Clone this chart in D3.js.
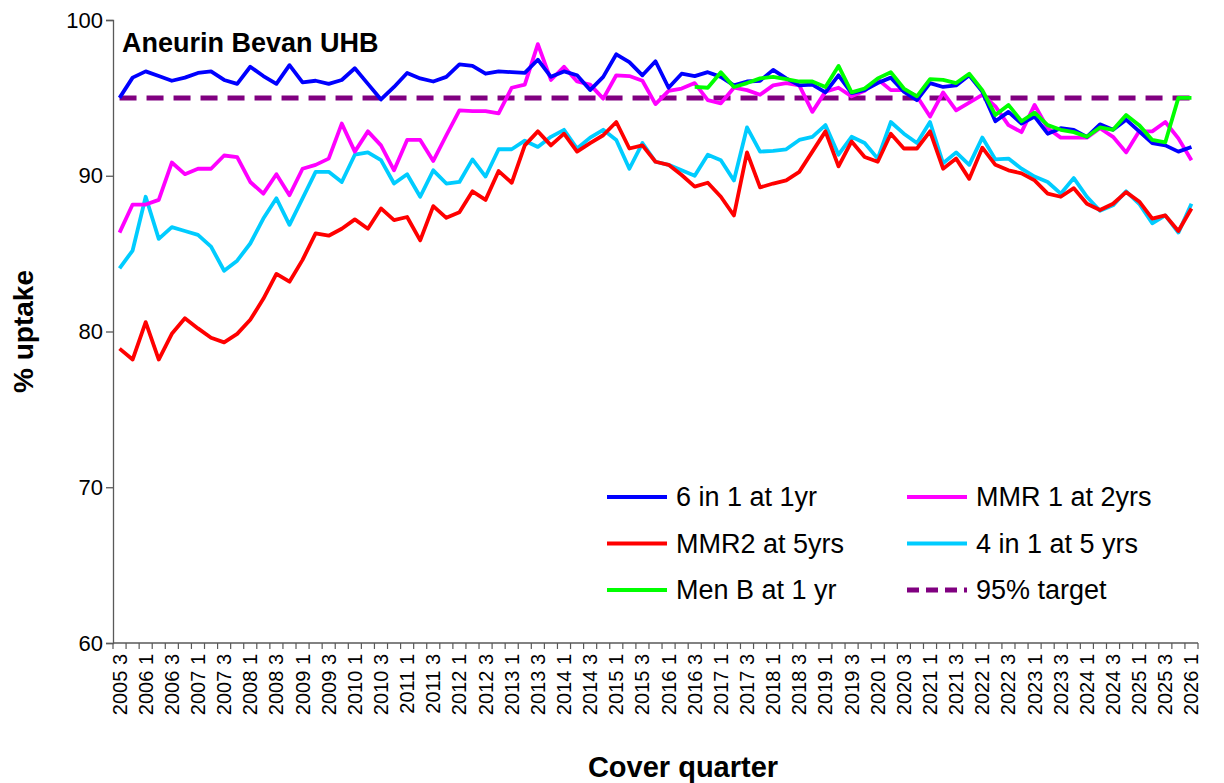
<!DOCTYPE html>
<html>
<head>
<meta charset="utf-8">
<script src="https://cdn.jsdelivr.net/npm/d3@7"></script>
<style>
body { margin: 0; background: #fff; }
text { font-family: Arial, "Liberation Sans", sans-serif; }
</style>
</head>
<body>
<div id="chart"></div>
<script>
// quarters 2005 Q3 .. 2026 Q1
var quarters = [];
for (var yr = 2005; yr <= 2026; yr++) {
  for (var q = 1; q <= 4; q++) {
    if (yr == 2005 && q < 3) continue;
    if (yr == 2026 && q > 1) continue;
    quarters.push(yr + " " + q);
  }
}
var yTicks = [60, 70, 80, 90, 100];

var sixInOne = [95.0,96.3,96.7,96.4,96.1,96.3,96.6,96.7,96.15,95.9,97.0,96.4,95.9,97.1,96.0,96.1,
  95.9,96.15,96.9,95.9,94.9,95.7,96.6,96.25,96.05,96.35,97.15,97.05,96.55,96.7,96.65,96.6,97.45,
  96.35,96.7,96.45,95.5,96.35,97.8,97.3,96.45,97.35,95.65,96.55,96.4,96.65,96.35,95.8,96.05,96.1,
  96.8,96.25,95.8,95.85,95.35,96.45,95.3,95.5,95.95,96.3,95.4,94.85,95.95,95.7,95.8,96.45,95.4,
  93.5,94.1,93.35,93.8,92.7,93.05,92.95,92.5,93.3,92.95,93.6,92.85,92.1,91.95,91.55,91.85];
var mmr1 = [86.35,88.15,88.15,88.45,90.85,90.1,90.45,90.45,91.3,91.2,89.6,88.85,90.1,88.75,90.45,90.7,
  91.1,93.35,91.55,92.85,91.95,90.35,92.3,92.3,90.95,92.6,94.2,94.15,94.15,94.0,95.65,95.85,98.45,
  96.15,97.0,96.05,95.85,94.95,96.45,96.4,96.1,94.6,95.45,95.6,95.95,94.85,94.65,95.65,95.5,95.2,
  95.8,95.95,95.8,94.1,95.4,95.65,95.1,95.45,96.2,95.5,95.5,95.1,93.8,95.35,94.2,94.7,95.2,
  94.45,93.25,92.8,94.55,93.05,92.45,92.45,92.45,93.05,92.5,91.5,92.85,92.85,93.45,92.4,91.0];
var mmr2 = [78.9,78.2,80.6,78.2,79.85,80.85,80.2,79.6,79.3,79.85,80.75,82.1,83.7,83.2,84.6,86.3,
  86.15,86.6,87.2,86.6,87.9,87.15,87.35,85.85,88.05,87.3,87.65,89.0,88.45,90.3,89.55,91.95,92.85,
  91.95,92.7,91.55,92.1,92.6,93.45,91.75,91.95,90.9,90.7,90.05,89.3,89.55,88.65,87.45,91.5,89.25,
  89.5,89.7,90.25,91.55,92.85,90.6,92.2,91.2,90.9,92.7,91.75,91.75,92.85,90.45,91.1,89.8,91.8,
  90.7,90.35,90.15,89.7,88.85,88.65,89.2,88.2,87.8,88.2,88.95,88.35,87.25,87.45,86.45,87.9];
var fourInOne = [84.05,85.2,88.65,85.95,86.7,86.45,86.2,85.45,83.9,84.55,85.65,87.25,88.55,86.85,88.55,90.25,
  90.25,89.6,91.35,91.5,91.0,89.5,90.1,88.65,90.35,89.5,89.6,91.05,89.95,91.7,91.7,92.25,91.85,
  92.5,92.95,91.75,92.45,92.95,92.3,90.45,92.1,90.9,90.7,90.35,90.0,91.35,91.0,89.7,93.1,91.55,
  91.6,91.7,92.3,92.5,93.25,91.35,92.5,92.1,91.1,93.45,92.7,92.1,93.45,90.8,91.5,90.7,92.45,
  91.05,91.1,90.45,89.95,89.6,88.85,89.85,88.65,87.75,88.1,89.0,88.2,86.95,87.45,86.35,88.2];
// Men B starts 2016 Q3
var menB = [95.7,95.65,96.65,95.7,95.95,96.25,96.35,96.2,96.05,96.05,95.7,97.05,95.35,95.6,96.25,96.65,
  95.6,95.1,96.2,96.15,95.95,96.55,95.5,93.9,94.55,93.5,94.05,93.25,92.95,92.8,92.5,93.1,92.95,
  93.9,93.25,92.3,92.15,95.0,95.0];
var menBStart = "2016 3";
var target = 95;

var width = 1224, height = 783;
var margin = { left: 113, right: 26, top: 20, bottom: 140 };

var svg = d3.select("#chart").append("svg")
  .attr("width", width)
  .attr("height", height);

var x = d3.scaleBand()
  .domain(quarters)
  .range([margin.left, width - margin.right])
  .padding(0);

var y = d3.scaleLinear()
  .domain([60, 100])
  .range([height - margin.bottom, margin.top]);

var axisColor = "#595959";

// y axis
var yAxis = svg.append("g")
  .attr("transform", "translate(" + margin.left + ",0)")
  .call(d3.axisLeft(y).tickValues(yTicks).tickSize(7).tickPadding(3));
yAxis.select(".domain").attr("stroke", axisColor).attr("stroke-width", 1.3);
yAxis.selectAll(".tick line").attr("stroke", axisColor).attr("stroke-width", 1.3);
yAxis.selectAll(".tick text").attr("font-size", 22).attr("fill", "#000")
  .style("font-family", "Arial, 'Liberation Sans', sans-serif");

// x axis: ticks on category boundaries, labels every second quarter
var xg = svg.append("g")
  .attr("transform", "translate(0," + y(60) + ")");
xg.append("line")
  .attr("x1", x.range()[0]).attr("x2", x.range()[1])
  .attr("y1", 0).attr("y2", 0)
  .attr("stroke", axisColor).attr("stroke-width", 1.3);
var bounds = quarters.map(function(d) { return x(d); }).concat([x.range()[1]]);
xg.selectAll(".xtick").data(bounds).enter().append("line")
  .attr("x1", function(d) { return d; }).attr("x2", function(d) { return d; })
  .attr("y1", 0).attr("y2", 6)
  .attr("stroke", axisColor).attr("stroke-width", 1.2);
xg.selectAll(".xlab").data(quarters.filter(function(d, i) { return i % 2 == 0; }))
  .enter().append("text")
  .attr("transform", function(d) {
    return "translate(" + (x(d) + x.bandwidth() / 2 + 7) + ",11) rotate(-90)";
  })
  .attr("text-anchor", "end")
  .attr("font-size", 20)
  .attr("fill", "#000")
  .text(function(d) { return d; });

// titles
svg.append("text")
  .attr("x", 122).attr("y", 52)
  .attr("font-size", 27).attr("font-weight", "bold")
  .text("Aneurin Bevan UHB");
svg.append("text")
  .attr("transform", "translate(33," + ((y(60) + y(100)) / 2) + ") rotate(-90)")
  .attr("text-anchor", "middle")
  .attr("font-size", 28).attr("font-weight", "bold")
  .text("% uptake");
svg.append("text")
  .attr("x", 683).attr("y", 777)
  .attr("text-anchor", "middle")
  .attr("font-size", 29).attr("font-weight", "bold")
  .text("Cover quarter");

var line = d3.line()
  .defined(function(d) { return d.v != null; })
  .x(function(d) { return x(d.q) + x.bandwidth() / 2; })
  .y(function(d) { return y(d.v); });

function toPts(arr, startQ) {
  var s = quarters.indexOf(startQ || quarters[0]);
  return arr.map(function(v, i) { return { q: quarters[s + i], v: v }; });
}

var series = [
  { name: "6 in 1 at 1yr", color: "#0000FF", data: toPts(sixInOne) },
  { name: "MMR 1 at 2yrs", color: "#FF00FF", data: toPts(mmr1) },
  { name: "MMR2 at 5yrs", color: "#FF0000", data: toPts(mmr2) },
  { name: "4 in 1 at 5 yrs", color: "#00CCFF", data: toPts(fourInOne) },
  { name: "Men B at 1 yr", color: "#00FF00", data: toPts(menB, menBStart) },
  { name: "95% target", color: "#800080", dash: true,
    data: quarters.map(function(q) { return { q: q, v: target }; }) }
];

var plotOrder = [5, 3, 2, 1, 0, 4];
plotOrder.forEach(function(k) {
  var s = series[k];
  svg.append("path")
    .datum(s.data)
    .attr("fill", "none")
    .attr("stroke", s.color)
    .attr("stroke-width", s.dash ? 5 : 3.8)
    .attr("stroke-dasharray", s.dash ? "17,10" : null)
    .attr("stroke-linejoin", "round")
    .attr("d", line);
});

// legend
var legend = svg.append("g");
series.forEach(function(s, i) {
  var col = i % 2, row = Math.floor(i / 2);
  var lx = 607 + col * 300, ly = 497 + row * 46.5;
  legend.append("line")
    .attr("x1", lx).attr("x2", lx + 60)
    .attr("y1", ly).attr("y2", ly)
    .attr("stroke", s.color)
    .attr("stroke-width", s.dash ? 5 : 4)
    .attr("stroke-dasharray", s.dash ? "12,7" : null);
  legend.append("text")
    .attr("x", lx + 69).attr("y", ly + 9)
    .attr("font-size", 27)
    .text(s.name);
});
</script>
</body>
</html>
